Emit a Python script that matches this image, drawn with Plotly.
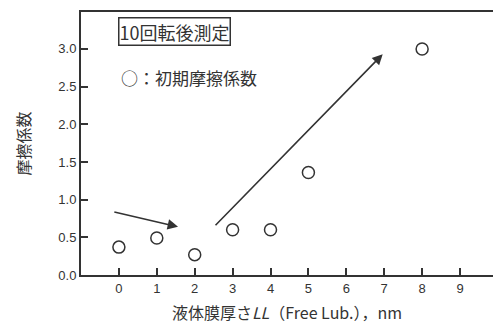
import plotly.graph_objects as go

thickness_nm = [0, 1, 2, 3, 4, 5, 8]
friction_coef = [0.37, 0.49, 0.27, 0.60, 0.60, 1.36, 3.0]
x_ticks = [0, 1, 2, 3, 4, 5, 6, 7, 8, 9]
y_ticks = [0.0, 0.5, 1.0, 1.5, 2.0, 2.5, 3.0]
y_tick_labels = ["0.0", "0.5", "1.0", "1.5", "2.0", "2.5", "3.0"]

INK = "#333333"
FONT = "Liberation Sans, Noto Sans CJK JP, sans-serif"
CJK = "Noto Sans CJK JP, Liberation Sans, sans-serif"

W, H = 493, 327
L, R, T, B = 81, 0, 12, 52
pw, ph = W - L - R, H - T - B

def px_to_paper(px, py):
    return (px - L) / pw, 1 - (py - T) / ph

fig = go.Figure()
fig.add_trace(go.Scatter(
    x=thickness_nm, y=friction_coef, mode="markers",
    marker=dict(symbol="circle-open", size=12, color=INK, line=dict(width=1.5, color=INK)),
    showlegend=False, cliponaxis=False, hoverinfo="skip",
))

fig.update_xaxes(
    range=[-1, 9.87], tickvals=x_ticks, ticks="inside", ticklen=7, tickwidth=1.5,
    tickcolor=INK, showline=True, linecolor=INK, linewidth=2, mirror=True,
    showgrid=False, zeroline=False, automargin=False,
    tickfont=dict(family=FONT, size=13, color=INK),
    title=dict(text="液体膜厚さ<i>LL</i>（Free Lub.），nm", font=dict(family=CJK, size=16, color=INK), standoff=13),
)
fig.update_yaxes(
    range=[0, 3.49], tickvals=y_ticks, ticktext=y_tick_labels, ticks="inside", ticklen=7,
    tickwidth=1.5, tickcolor=INK, showline=True, linecolor=INK, linewidth=2,
    showgrid=False, zeroline=False, automargin=False,
    tickfont=dict(family=FONT, size=13, color=INK),
    title=dict(text="摩擦係数", font=dict(family=CJK, size=16, color=INK), standoff=24),
)

fig.add_annotation(x=1.56, y=0.64, ax=-0.16, ay=0.84, xref="x", yref="y", axref="x", ayref="y",
                   text="", showarrow=True, arrowhead=2, arrowsize=1.3, arrowwidth=1.6, arrowcolor=INK)
fig.add_annotation(x=6.96, y=2.93, ax=2.51, ay=0.64, xref="x", yref="y", axref="x", ayref="y",
                   text="", showarrow=True, arrowhead=2, arrowsize=1.3, arrowwidth=1.6, arrowcolor=INK)

bx, by = px_to_paper(118, 17)
fig.add_annotation(x=bx, y=by, xref="paper", yref="paper", text="10回転後測定",
                   showarrow=False, xanchor="left", yanchor="top",
                   font=dict(family=CJK, size=18, color=INK),
                   bordercolor=INK, borderwidth=1.5, borderpad=0)
lx, ly = px_to_paper(119, 63)
fig.add_annotation(x=lx, y=ly, xref="paper", yref="paper", text="○：初期摩擦係数",
                   showarrow=False, xanchor="left", yanchor="top",
                   font=dict(family=CJK, size=17, color=INK))

fig.update_layout(
    width=W, height=H, margin=dict(l=L, r=R, t=T, b=B, autoexpand=False),
    plot_bgcolor="white", paper_bgcolor="white",
)
fig.write_html(
    "out.html",
    config={"displayModeBar": False},
    post_script="document.body.style.margin='0';document.body.style.overflow='hidden';",
)
